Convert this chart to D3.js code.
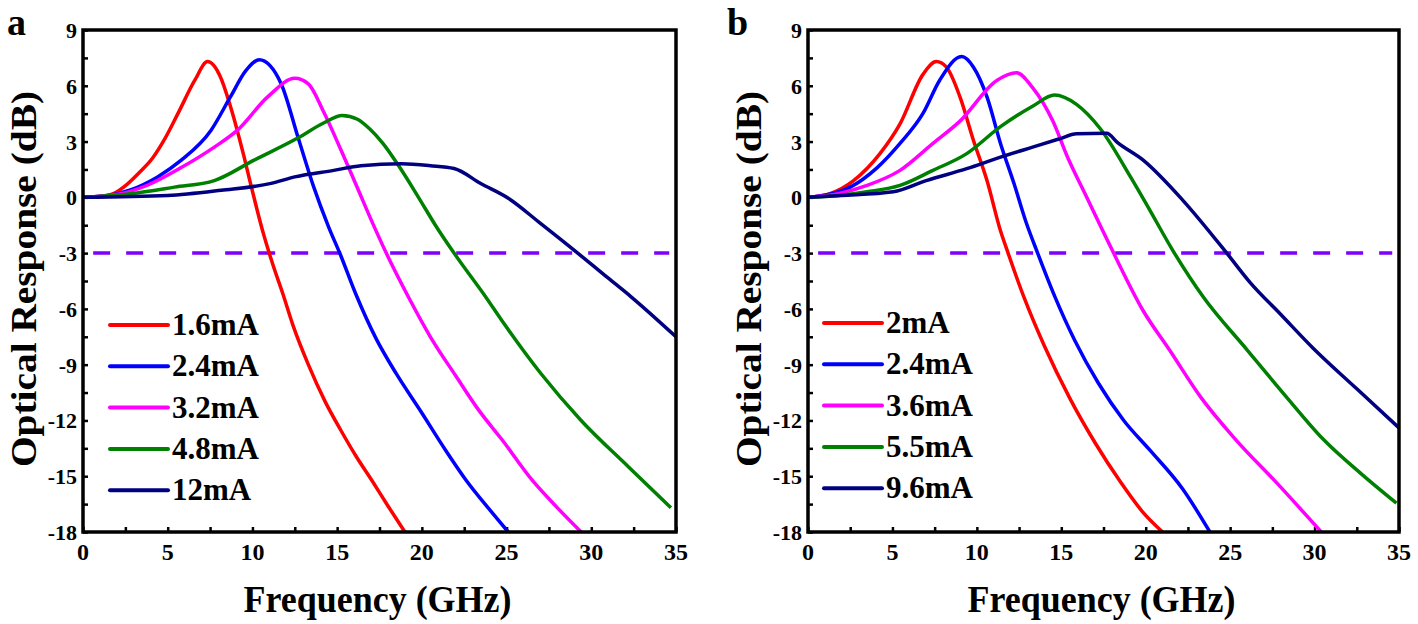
<!DOCTYPE html>
<html>
<head>
<meta charset="utf-8">
<script src="https://cdn.jsdelivr.net/npm/d3@7"></script>
<style>
  body { margin: 0; background: #fff; }
  text { font-family: "Liberation Serif", "Times New Roman", serif; font-weight: bold; }
</style>
</head>
<body>
<svg id="chart" width="1418" height="624"></svg>
<script>
// panel a : bias currents and measured S21 curves [GHz, dB]
const labelsA = ['1.6mA', '2.4mA', '3.2mA', '4.8mA', '12mA']
const a16 = [[0,0],[1,0.05],[1.8,0.2],[2.6,0.7],[3.4,1.4],[4.1,2.1],[4.8,3.1],[5.6,4.5],[6.6,6.3],[7.35,7.3],[8.1,6.5],[8.7,4.9],[9.5,2.2],[9.9,0.7],[10.6,-1.8],[11.2,-3.6],[11.8,-5.2],[12.4,-6.9],[13.3,-9],[14.3,-11],[15.2,-12.5],[16.1,-13.9],[17.1,-15.3],[18,-16.6],[19,-18]]
const a24 = [[0,0],[1.5,0.1],[2.8,0.4],[4.4,1.1],[5.8,2],[7.55,3.6],[8.7,5.4],[9.6,6.8],[10.4,7.4],[11.7,6.1],[12.7,3.2],[13.6,0.6],[14.5,-1.6],[15.2,-3.1],[16.1,-5.2],[17.3,-7.6],[18.5,-9.5],[20,-11.6],[21.4,-13.6],[22.6,-15.2],[24,-16.8],[25.1,-18]]
const a32 = [[0,0],[2,0.15],[3.8,0.65],[5.8,1.6],[7.75,2.7],[9.1,3.6],[10.9,5.4],[12.5,6.4],[13.3,6.1],[14.2,4.6],[15.2,2.6],[16.2,0.5],[17.1,-1.4],[17.9,-3],[19.2,-5.35],[20.5,-7.5],[22,-9.6],[23.4,-11.5],[24.7,-13],[26.5,-15.2],[28,-16.7],[29.4,-18]]
const a48 = [[0,0],[2.8,0.2],[5.4,0.55],[7.75,0.9],[10.1,2],[12.7,3.2],[14.2,4],[15.3,4.4],[16.2,4.2],[16.9,3.7],[17.7,2.9],[18.7,1.6],[19.8,0],[20.8,-1.5],[21.9,-3],[23.8,-5.4],[24.7,-6.6],[27,-9.45],[29.4,-12],[32.2,-14.5],[34.7,-16.7]]
const a12 = [[0,0],[5,0.1],[8.15,0.38],[11.1,0.75],[12.5,1.1],[14.8,1.45],[16.4,1.7],[18.8,1.8],[20.5,1.7],[21.9,1.55],[23.5,0.73],[25.1,-0.05],[27,-1.4],[29.2,-3],[30.8,-4.2],[32.35,-5.35],[35,-7.5]]

// panel b
const labelsB = ['2mA', '2.4mA', '3.6mA', '5.5mA', '9.6mA']
const b20 = [[0,0],[1.3,0.2],[2.7,0.9],[4.26,2.35],[5.45,3.95],[6.8,6.6],[7.6,7.3],[8.2,7],[9,5.4],[9.8,3.06],[10.6,0.9],[11.4,-1.8],[11.85,-3],[12.8,-5.4],[14,-8],[15.5,-10.8],[17,-13.2],[18.5,-15.3],[19.8,-16.9],[21,-18]]
const b24 = [[0,0],[1.2,0.15],[2.5,0.55],[4.1,1.6],[5.45,2.9],[6.8,4.5],[7.8,6.3],[9.1,7.57],[9.8,7],[10.6,5.4],[11.4,2.9],[12.2,0.74],[12.9,-1.3],[13.6,-3],[14.6,-5.3],[15.8,-7.7],[17.2,-10],[18.7,-12],[20.25,-13.6],[22.2,-15.7],[23.8,-18]]
const b36 = [[0,0],[1.8,0.2],[3.5,0.64],[5.45,1.45],[7.4,2.9],[9,4.1],[11.2,6.3],[12.35,6.7],[13.3,5.9],[14.5,4.1],[15.4,2.1],[16.4,0.2],[17.3,-1.5],[18.1,-3],[19.85,-6.1],[21.4,-8.2],[23.3,-10.8],[25.3,-13],[27.8,-15.4],[30.4,-18]]
const b55 = [[0,0],[1.8,0.1],[3.5,0.3],[5.45,0.64],[7.4,1.45],[9.4,2.35],[11.4,3.8],[13.3,4.9],[14.6,5.5],[15.9,5],[17.3,3.7],[19.1,1.1],[20.25,-0.7],[21.6,-2.85],[23.4,-5.35],[26,-8.2],[28.3,-10.7],[30.5,-13],[32.8,-14.9],[34.85,-16.45]]
const b96 = [[0,0],[2,0.1],[5.05,0.3],[7,0.9],[9.4,1.54],[11.4,2.16],[13.3,2.7],[14.9,3.15],[15.9,3.42],[17.7,3.45],[18.3,2.97],[19.85,2],[22.2,-0.16],[24.8,-3],[26.2,-4.6],[28,-6.3],[29.9,-8.1],[32.5,-10.3],[35,-12.4]]

const colors = ['#ff0000', '#0000ff', '#ff00ff', '#008000', '#000080']
const yTicks = [9, 6, 3, 0, -3, -6, -9, -12, -15, -18]
const xTicks = [0, 5, 10, 15, 20, 25, 30, 35]

const svg = d3.select('#chart')

const drawPanel = (opts) => {
  const { left, right, top, bottom, series, labels, tag, tagX, legendX, legendY } = opts

  const x = d3.scaleLinear().domain([0, 35]).range([left, right])
  const y = d3.scaleLinear().domain([-18, 9]).range([bottom, top])

  const g = svg.append('g')

  // minor + major ticks, all pointing inward
  g.append('g')
    .attr('transform', `translate(${left},0)`)
    .call(d3.axisLeft(y).tickValues(d3.range(-18, 9.01, 1.5)).tickSize(-5).tickFormat(''))
    .call(s => s.select('.domain').remove())
    .call(s => s.selectAll('line').attr('stroke-width', 2.5))

  g.append('g')
    .attr('transform', `translate(0,${bottom})`)
    .call(d3.axisBottom(x).tickValues(d3.range(0, 35.01, 2.5)).tickSize(-5).tickFormat(''))
    .call(s => s.select('.domain').remove())
    .call(s => s.selectAll('line').attr('stroke-width', 2.5))

  // -3 dB reference
  g.append('line')
    .attr('x1', x(0.6)).attr('x2', x(34.6))
    .attr('y1', y(-3)).attr('y2', y(-3))
    .attr('stroke', '#7f00ff')
    .attr('stroke-width', 3.5)
    .attr('stroke-dasharray', '17,16')

  const line = d3.line()
    .x(d => x(d[0]))
    .y(d => y(d[1]))
    .curve(d3.curveMonotoneX)

  g.append('g')
    .selectAll('path')
    .data(series)
    .join('path')
      .attr('d', line)
      .attr('fill', 'none')
      .attr('stroke', (d, i) => colors[i])
      .attr('stroke-width', 3.5)
      .attr('stroke-linejoin', 'round')

  // frame
  g.append('rect')
    .attr('x', left).attr('y', top)
    .attr('width', right - left).attr('height', bottom - top)
    .attr('fill', 'none')
    .attr('stroke', '#000')
    .attr('stroke-width', 3.5)

  g.append('g')
    .selectAll('text')
    .data(yTicks)
    .join('text')
      .attr('x', left - 6)
      .attr('y', d => y(d) + 8)
      .attr('text-anchor', 'end')
      .attr('font-size', 22)
      .text(d => d)

  g.append('g')
    .selectAll('text')
    .data(xTicks)
    .join('text')
      .attr('x', d => x(d))
      .attr('y', bottom + 28)
      .attr('text-anchor', 'middle')
      .attr('font-size', 24)
      .text(d => d)

  g.append('text')
    .attr('x', (left + right) / 2 - 2)
    .attr('y', bottom + 80)
    .attr('text-anchor', 'middle')
    .attr('font-size', 38)
    .attr('textLength', 268)
    .attr('lengthAdjust', 'spacingAndGlyphs')
    .text('Frequency (GHz)')

  g.append('text')
    .attr('transform', `translate(${left - 47},${(top + bottom) / 2 - 2}) rotate(-90)`)
    .attr('text-anchor', 'middle')
    .attr('font-size', 36)
    .attr('textLength', 376)
    .attr('lengthAdjust', 'spacingAndGlyphs')
    .text('Optical Response (dB)')

  g.append('text')
    .attr('x', tagX)
    .attr('y', top + 5)
    .attr('font-size', 38)
    .text(tag)

  // legend
  const leg = g.append('g')
    .selectAll('g')
    .data(labels)
    .join('g')
      .attr('transform', (d, i) => `translate(${legendX},${legendY + i * 41.3})`)

  leg.append('line')
    .attr('x1', 0).attr('x2', 58)
    .attr('stroke', (d, i) => colors[i])
    .attr('stroke-width', 4)
    .attr('stroke-linecap', 'round')

  leg.append('text')
    .attr('x', 62)
    .attr('y', 10)
    .attr('font-size', 31)
    .text(d => d)
}

drawPanel({
  left: 83, right: 676, top: 30, bottom: 532,
  series: [a16, a24, a32, a48, a12], labels: labelsA, tag: 'a', tagX: 7,
  legendX: 110, legendY: 325
})

drawPanel({
  left: 808, right: 1399, top: 30, bottom: 532,
  series: [b20, b24, b36, b55, b96], labels: labelsB, tag: 'b', tagX: 727,
  legendX: 824, legendY: 323
})
</script>
</body>
</html>
